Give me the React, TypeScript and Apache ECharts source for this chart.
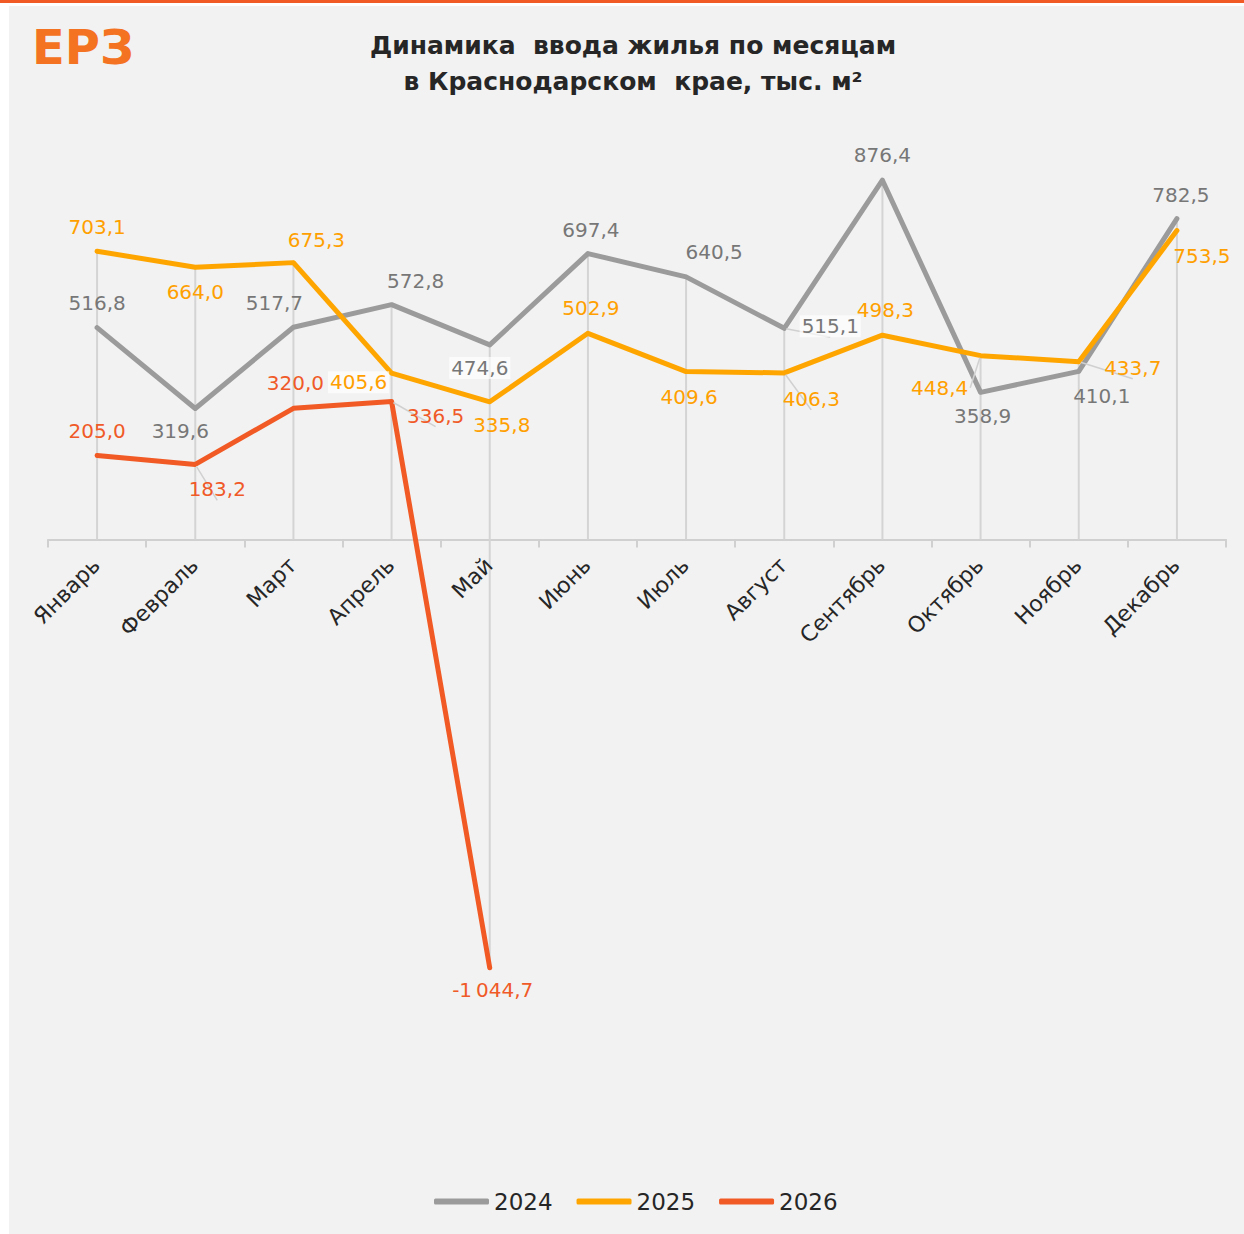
import React, { useEffect, useRef } from "react";
import * as echarts from "echarts";

const MONTHS = ["Январь", "Февраль", "Март", "Апрель", "Май", "Июнь", "Июль", "Август", "Сентябрь", "Октябрь", "Ноябрь", "Декабрь"];
const SERIES_NAMES = ["2024", "2025", "2026"];
const VALUES_2024 = [516.8, 319.6, 517.7, 572.8, 474.6, 697.4, 640.5, 515.1, 876.4, 358.9, 410.1, 782.5];
const VALUES_2025 = [703.1, 664.0, 675.3, 405.6, 335.8, 502.9, 409.6, 406.3, 498.3, 448.4, 433.7, 753.5];
const VALUES_2026 = [205.0, 183.2, 320.0, 336.5, -1044.7];
const TITLE_LINES = ["Динамика  ввода жилья по месяцам", "в Краснодарском  крае, тыс. м²"];

// label layout (offsets from point, in px) — styling only
const OFFSETS_2024 = [[0, -25], [-15, 23], [-19, -24], [24, -24], [-10, 23], [3, -24], [28, -25], [46, -2], [0, -25], [2, 24], [23, 25], [4, -24]];
const OFFSETS_2025 = [[0, -24], [0, 25], [23, -23], [-33, 9], [12, 23], [3, -25], [3, 25], [27, 26], [3, -25], [-41, 32], [54, 6], [25, 25]];
const OFFSETS_2026 = [[0, -24], [22, 25], [2, -25], [44, 14], [3, 22]];
const BOXED = [[4, 7], [3], [] as number[]];
const LEADER = [[7], [7, 9, 10], [1, 3]];

const COLORS = ["#9b9b9b", "#ffa500", "#f15a24"];
const LABEL_COLORS = ["#777777", "#ffa000", "#f05a28"];
const FONT = "'DejaVu Sans', sans-serif";

const fmt = (v: number) => {
  const s = Math.abs(v).toFixed(1).replace(".", ",");
  const [ip, dp] = s.split(",");
  const withSpace = ip.length > 3 ? ip.slice(0, ip.length - 3) + "\u202f" + ip.slice(ip.length - 3) : ip;
  return (v < 0 ? "-" : "") + withSpace + "," + dp;
};

export default function App() {
  const ref = useRef<HTMLDivElement>(null);
  useEffect(() => {
    if (!ref.current) return;
    const chart = echarts.init(ref.current, null, { renderer: "svg" });
    const all = [VALUES_2024, VALUES_2025, VALUES_2026];
    const offsets = [OFFSETS_2024, OFFSETS_2025, OFFSETS_2026];
    const dropData = MONTHS.map((_, i) => {
      const vals = all.map((a) => a[i]).filter((v) => v !== undefined) as number[];
      return [i, Math.max(...vals), Math.min(0, ...vals)];
    });
    const lineSeries = all.map((vals, si) => ({
      type: "line",
      name: SERIES_NAMES[si],
      z: 3 + si,
      symbol: "circle",
      symbolSize: 4,
      itemStyle: { color: COLORS[si] },
      lineStyle: { color: COLORS[si], width: 5, cap: "round", join: "round" },
      data: vals.map((v, i) => ({
        value: v,
        labelLine: LEADER[si].includes(i)
          ? { show: true, lineStyle: { color: "#d0d0d0", width: 1.5 } }
          : { show: false },
        label: {
          show: true,
          position: "inside",
          offset: offsets[si][i],
          formatter: fmt(v),
          color: LABEL_COLORS[si],
          fontSize: 20,
          fontFamily: FONT,
          backgroundColor: BOXED[si].includes(i) ? "rgba(255,255,255,0.65)" : "transparent",
          padding: [1, 2],
        },
      })),
    }));
    chart.setOption({
      animation: false,
      backgroundColor: "#ffffff",
      graphic: [
        { type: "rect", z: -10, shape: { x: 0, y: 0, width: 1244, height: 3 }, style: { fill: "#f15a24" }, silent: true },
        { type: "rect", z: -10, shape: { x: 9, y: 6, width: 1235, height: 1228 }, style: { fill: "#f2f2f2" }, silent: true },
        {
          type: "text",
          z: 10,
          x: 32,
          y: 23,
          style: {
            text: "ЕРЗ",
            fontSize: 48,
            fontWeight: "bold",
            fontFamily: FONT,
            fill: "#f47322",
          },
        },
        {
          type: "text",
          z: 10,
          x: 633,
          y: 27,
          style: {
            text: TITLE_LINES.join("\n"),
            align: "center",
            verticalAlign: "top",
            fontSize: 25,
            fontWeight: "bold",
            fontFamily: FONT,
            lineHeight: 36,
            fill: "#262626",
          },
        },
      ],
      legend: {
        bottom: 16,
        left: 429,
        icon: "roundRect",
        itemWidth: 55,
        itemHeight: 6,
        itemGap: 24,
        data: SERIES_NAMES,
        textStyle: { fontSize: 23, fontFamily: FONT, color: "#262626", padding: [0, 0, 0, 0] },
      },
      grid: { left: 48, right: 18, top: 170.5, height: 861, containLabel: false },
      xAxis: {
        type: "category",
        data: MONTHS,
        boundaryGap: true,
        axisLine: { onZero: true, lineStyle: { color: "#d0d0d0", width: 2 } },
        axisTick: { show: true, length: 8, lineStyle: { color: "#d0d0d0", width: 2 } },
        axisLabel: { show: false },
        splitLine: { show: false },
      },
      yAxis: { type: "value", min: -1200, max: 900, show: false, splitLine: { show: false } },
      series: [
        {
          type: "custom",
          z: 1,
          silent: true,
          encode: { x: 0, y: [1, 2] },
          data: dropData,
          renderItem: (params: any, api: any) => {
            const x = api.value(0);
            const p1 = api.coord([x, api.value(1)]);
            const p2 = api.coord([x, api.value(2)]);
            return {
              type: "line",
              shape: { x1: p1[0], y1: p1[1], x2: p2[0], y2: p2[1] },
              style: { stroke: "#d4d4d4", lineWidth: 2 },
            };
          },
        },
        {
          type: "custom",
          z: 2,
          silent: true,
          encode: { x: 0, y: 1 },
          data: MONTHS.map((_, i) => [i, 0]),
          renderItem: (params: any, api: any) => {
            const i = api.value(0);
            const p = api.coord([i, 0]);
            return {
              type: "text",
              x: p[0] - 1,
              y: p[1] + 22,
              rotation: Math.PI / 4,
              style: {
                text: MONTHS[params.dataIndex],
                align: "right",
                verticalAlign: "middle",
                fontSize: 22,
                fontFamily: FONT,
                fill: "#262626",
              },
            };
          },
        },
        ...lineSeries,
      ],
    });
    return () => chart.dispose();
  }, []);
  return <div ref={ref} style={{ position: "fixed", left: 0, top: 0, width: 1244, height: 1234 }} />;
}
